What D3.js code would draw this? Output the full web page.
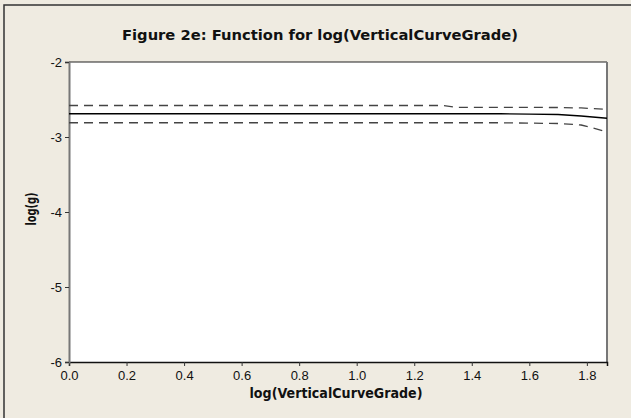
<!DOCTYPE html>
<html>
<head>
<meta charset="utf-8">
<script src="https://cdn.jsdelivr.net/npm/d3@7"></script>
<style>
  body { margin: 0; background: #efebe1; }
  text { font-family: "Liberation Sans", Arial, sans-serif; fill: #111; }
</style>
</head>
<body>
<svg id="chart" width="631" height="418"></svg>
<script>
// values
const xVals = [0, 0.2, 0.4, 0.6, 0.8, 1.0, 1.2, 1.3, 1.35, 1.5, 1.6, 1.7, 1.78, 1.87];
const fitVals = [-2.69, -2.69, -2.69, -2.69, -2.69, -2.69, -2.69, -2.69, -2.69, -2.69, -2.695, -2.70, -2.72, -2.75];
const upperVals = [-2.58, -2.58, -2.58, -2.58, -2.58, -2.58, -2.58, -2.58, -2.605, -2.605, -2.605, -2.607, -2.613, -2.63];
const lowerVals = [-2.81, -2.81, -2.81, -2.81, -2.81, -2.81, -2.81, -2.81, -2.81, -2.81, -2.815, -2.82, -2.84, -2.93];
const xTicks = [0, 0.2, 0.4, 0.6, 0.8, 1.0, 1.2, 1.4, 1.6, 1.8];
const yTicks = [-2, -3, -4, -5, -6];

const svg = d3.select('#chart');
const margin = { left: 69, top: 62, right: 607, bottom: 362 };
const boldFont = '"DejaVu Sans", Verdana, sans-serif';

// outer frame (only top and left edge show in the picture)
svg.append('rect')
  .attr('x', 4).attr('y', 5)
  .attr('width', 640).attr('height', 430)
  .attr('fill', '#efebe1')
  .attr('stroke', '#333')
  .attr('stroke-width', 1.5);

const x = d3.scaleLinear().domain([0, 1.87]).range([margin.left, margin.right]);
const y = d3.scaleLinear().domain([-6, -2]).range([margin.bottom, margin.top]);

svg.append('rect')
  .attr('x', margin.left).attr('y', margin.top)
  .attr('width', margin.right - margin.left)
  .attr('height', margin.bottom - margin.top)
  .attr('fill', '#fff');

// right and top edges of the plot box
svg.append('line')
  .attr('x1', margin.left).attr('x2', margin.right)
  .attr('y1', margin.top).attr('y2', margin.top)
  .attr('stroke', '#222').attr('stroke-width', 1.2);
svg.append('line')
  .attr('x1', margin.right).attr('x2', margin.right)
  .attr('y1', margin.top).attr('y2', margin.bottom)
  .attr('stroke', '#777').attr('stroke-width', 2);

const xAxis = svg.append('g')
  .attr('transform', `translate(0,${margin.bottom})`)
  .call(d3.axisBottom(x).tickValues(xTicks).tickFormat(d3.format('.1f')).tickSizeOuter(0).tickSize(4).tickPadding(5));
xAxis.select('.domain').attr('stroke', '#111').attr('stroke-width', 1.5);

const yAxis = svg.append('g')
  .attr('transform', `translate(${margin.left},0)`)
  .call(d3.axisLeft(y).tickValues(yTicks).tickFormat(d3.format('d')).tickSizeOuter(0).tickSize(4).tickPadding(3));
yAxis.select('.domain').attr('stroke', '#777').attr('stroke-width', 2);

[xAxis, yAxis].forEach((g) => {
  g.selectAll('text')
    .style('font-family', '"Liberation Sans", Arial, sans-serif')
    .style('font-size', '13px')
    .attr('fill', '#111');
  g.selectAll('.tick line').attr('stroke', '#333');
});
// plain hyphen minus like the original
yAxis.selectAll('text').text((d) => String(d).replace('\u2212', '-'));

const line = d3.line().x((d) => x(d[0])).y((d) => y(d[1]));

svg.append('path')
  .datum(d3.zip(xVals, fitVals))
  .attr('d', line)
  .attr('fill', 'none')
  .attr('stroke', '#000')
  .attr('stroke-width', 1.3);

[upperVals, lowerVals].forEach((vals) => {
  svg.append('path')
    .datum(d3.zip(xVals, vals))
    .attr('d', line)
    .attr('fill', 'none')
    .attr('stroke', '#444')
    .attr('stroke-width', 1.3)
    .attr('stroke-dasharray', '9,6');
});

svg.append('text')
  .attr('x', 320).attr('y', 40)
  .attr('text-anchor', 'middle')
  .attr('textLength', 396)
  .attr('lengthAdjust', 'spacingAndGlyphs')
  .style('font-family', boldFont)
  .style('font-size', '14px')
  .style('font-weight', 'bold')
  .text('Figure 2e: Function for log(VerticalCurveGrade)');

svg.append('text')
  .attr('x', 336).attr('y', 398)
  .attr('text-anchor', 'middle')
  .attr('textLength', 173)
  .attr('lengthAdjust', 'spacingAndGlyphs')
  .style('font-family', boldFont)
  .style('font-size', '13.5px')
  .style('font-weight', 'bold')
  .text('log(VerticalCurveGrade)');

svg.append('text')
  .attr('transform', 'translate(36,209) rotate(-90)')
  .attr('text-anchor', 'middle')
  .attr('textLength', 33)
  .attr('lengthAdjust', 'spacingAndGlyphs')
  .style('font-family', boldFont)
  .style('font-size', '14px')
  .style('font-weight', 'bold')
  .text('log(g)');
</script>
</body>
</html>
